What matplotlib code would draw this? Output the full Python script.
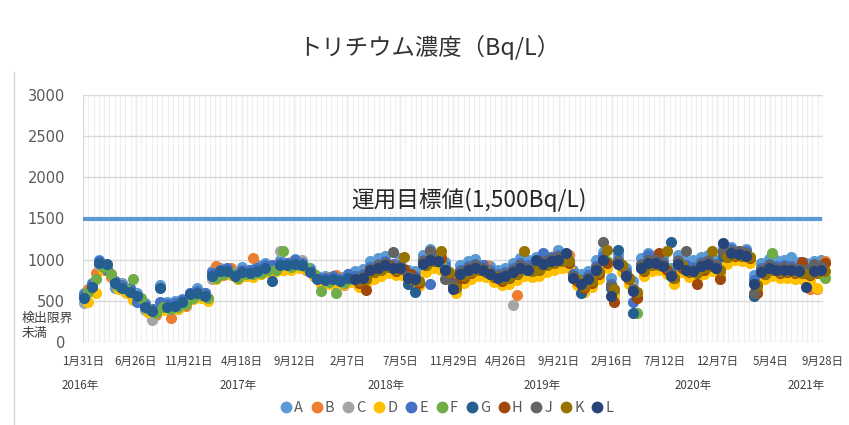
import matplotlib
matplotlib.use('Agg')
import matplotlib.pyplot as plt
import numpy as np
import pandas as pd
from matplotlib.lines import Line2D

plt.rcParams['font.family'] = ['Noto Sans CJK JP', 'DejaVu Sans']

# ---------------- data ----------------
title = 'トリチウム濃度（Bq/L）'
target_label = '運用目標値(1,500Bq/L)'
target_value = 1500
target_dates = ['2016-01-31', '2021-09-25']
lod_lines = ['検出限界', '未満']

tick_dates = ['2016-01-31', '2016-06-26', '2016-11-21', '2017-04-18', '2017-09-12',
              '2018-02-07', '2018-07-05', '2018-11-29', '2019-04-26', '2019-09-21',
              '2020-02-16', '2020-07-12', '2020-12-07', '2021-05-04', '2021-09-28']
tick_labels = ['1月31日', '6月26日', '11月21日', '4月18日', '9月12日', '2月7日', '7月5日',
               '11月29日', '4月26日', '9月21日', '2月16日', '7月12日', '12月7日', '5月4日', '9月28日']
year_labels = ['2016年', '2017年', '2018年', '2019年', '2020年', '2021年']
y_ticks = [0, 500, 1000, 1500, 2000, 2500, 3000]

series_names = ['A', 'B', 'C', 'D', 'E', 'F', 'G', 'H', 'J', 'K', 'L']
colors = ['#5B9BD5', '#ED7D31', '#A5A5A5', '#FFC000', '#4472C4', '#70AD47',
          '#255E91', '#9E480E', '#636363', '#997300', '#264478']

# sampling dates (group 1)
dates = ['2016-02-04', '2016-02-25', '2016-03-17', '2016-04-07', '2016-04-28', '2016-05-19',
         '2016-06-09', '2016-06-30', '2016-07-21', '2016-08-11', '2016-09-01', '2016-09-22',
         '2016-10-13', '2016-11-03', '2016-11-24', '2016-12-15', '2017-01-05', '2017-01-26',
         '2017-02-16', '2017-03-09', '2017-03-30', '2017-04-20', '2017-05-11', '2017-06-01',
         '2017-06-22', '2017-07-13', '2017-08-03', '2017-08-24', '2017-09-14', '2017-10-05',
         '2017-10-26', '2017-11-16', '2017-12-07', '2017-12-28', '2018-01-18', '2018-02-08',
         '2018-03-01', '2018-03-22', '2018-04-12', '2018-05-03', '2018-05-24', '2018-06-14',
         '2018-07-05', '2018-07-26', '2018-08-16', '2018-09-06', '2018-09-27', '2018-10-18',
         '2018-11-08', '2018-11-29', '2018-12-20', '2019-01-10', '2019-01-31', '2019-02-21',
         '2019-03-14', '2019-04-04', '2019-04-25', '2019-05-16', '2019-06-06', '2019-06-27',
         '2019-07-18', '2019-08-08', '2019-08-29', '2019-09-19', '2019-10-10', '2019-10-31',
         '2019-11-21', '2019-12-12', '2020-01-02', '2020-01-23', '2020-02-13', '2020-03-05',
         '2020-03-26', '2020-04-16', '2020-05-07', '2020-05-28', '2020-06-18', '2020-07-09',
         '2020-07-30', '2020-08-20', '2020-09-10', '2020-10-01', '2020-10-22', '2020-11-12',
         '2020-12-03', '2020-12-24', '2021-01-14', '2021-02-04', '2021-02-25', '2021-03-18',
         '2021-04-08', '2021-04-29', '2021-05-20', '2021-06-10', '2021-07-01', '2021-07-22',
         '2021-08-12', '2021-09-02', '2021-09-23']
# sampling dates (group 2)
dates_alt = ['2016-02-14', '2016-03-06', '2016-03-27', '2016-04-17', '2016-05-08', '2016-05-29',
             '2016-06-19', '2016-07-10', '2016-07-31', '2016-08-21', '2016-09-11', '2016-10-02',
             '2016-10-23', '2016-11-13', '2016-12-04', '2016-12-25', '2017-01-15', '2017-02-05',
             '2017-02-26', '2017-03-19', '2017-04-09', '2017-04-30', '2017-05-21', '2017-06-11',
             '2017-07-02', '2017-07-23', '2017-08-13', '2017-09-03', '2017-09-24', '2017-10-15',
             '2017-11-05', '2017-11-26', '2017-12-17', '2018-01-07', '2018-01-28', '2018-02-18',
             '2018-03-11', '2018-04-01', '2018-04-22', '2018-05-13', '2018-06-03', '2018-06-24',
             '2018-07-15', '2018-08-05', '2018-08-26', '2018-09-16', '2018-10-07', '2018-10-28',
             '2018-11-18', '2018-12-09', '2018-12-30', '2019-01-20', '2019-02-10', '2019-03-03',
             '2019-03-24', '2019-04-14', '2019-05-05', '2019-05-26', '2019-06-16', '2019-07-07',
             '2019-07-28', '2019-08-18', '2019-09-08', '2019-09-29', '2019-10-20', '2019-11-10',
             '2019-12-01', '2019-12-22', '2020-01-12', '2020-02-02', '2020-02-23', '2020-03-15',
             '2020-04-05', '2020-04-26', '2020-05-17', '2020-06-07', '2020-06-28', '2020-07-19',
             '2020-08-09', '2020-08-30', '2020-09-20', '2020-10-11', '2020-11-01', '2020-11-22',
             '2020-12-13', '2021-01-03', '2021-01-24', '2021-02-14', '2021-03-07', '2021-03-28',
             '2021-04-18', '2021-05-09', '2021-05-30', '2021-06-20', '2021-07-11', '2021-08-01',
             '2021-08-22', '2021-09-12', '2021-10-03']

A = [590, 720, 990, 900, 650, 720, 580, 600, 470, 400, 690, 480, 500, 520, 600, 650, 590, 860, 900, 820,
     850, 910, 880, 930, 960, 870, 990, 900, 1010, 980, 900, 800, 800, 720, 790, 830,
     860, 890, 980, 1020, 1050, 900, 1020, 880, 860, 1060, 1130, 990, 970, 800, 930, 980, 1010, 890, 920, 880,
     900, 960, 1020, 990, 1030, 1060, 990, 1120, 1010, 880, 820, 860, 990, 1090, 780, 1060, 900, 740, 1020, 1080,
     1060, 1030, 900, 1060, 980, 990, 1030, 1060, 1000, 1140, 1150, 1080, 1130, 810, 960, 1010, 990, 1000, 1030,
     970, 960, 980, 990]
B = [640, 840, 880, 790, 690, 610, 570, 520, 370, 330, 410, 290, 400, 440, 520, 560, 520, 920, 810, 900,
     760, 800, 1020, 830, 850, 940, 880, 970, 920, 880, 800, 700, 790, 810, 690, 730, 700, 850, 820, 850,
     880, 950, 850, 720, 700, 900, 950, 1040, 810, 660, 770, 820, 850, 930, 770, 730, 750, 570, 850, 820,
     850, 900, 1040, 950, 1060, 720, 610, 700, 820, 950, 580, 900, 740, 580, 850, 910, 1010, 870, 740, 900,
     830, 800, 870, 900, 850, 1000, 1030, 1110, 1000, 650, 800, 850, 820, 830, 820, 810, 640, 640, 980]
C = [470, 640, 940, 870, 700, 700, 600, 520, 390, 270, 430, 400, 470, 460, 580, 620, 600, 760, 870, 890,
     840, 880, 830, 880, 940, 920, 1100, 960, 920, 990, 880, 790, 720, 790, 770, 760, 790, 810, 900, 950,
     900, 940, 950, 820, 800, 990, 1040, 1010, 900, 720, 860, 910, 930, 920, 860, 820, 840, 450, 940, 920,
     940, 990, 1020, 1040, 970, 820, 740, 800, 910, 1040, 690, 990, 840, 660, 940, 1000, 1000, 960, 840, 990,
     920, 900, 960, 990, 940, 1090, 1120, 1110, 1090, 740, 890, 940, 910, 920, 910, 900, 880, 900, 920]
D = [490, 600, 870, 820, 640, 600, 510, 490, 370, 350, 390, 410, 400, 460, 520, 540, 500, 760, 820, 810,
     770, 800, 790, 820, 850, 860, 880, 880, 900, 890, 810, 710, 700, 720, 700, 730,
     670, 700, 770, 800, 840, 810, 800, 700, 680, 850, 900, 880, 780, 600, 720, 770, 800, 790, 730, 690,
     700, 750, 800, 790, 800, 850, 880, 900, 900, 690, 610, 670, 770, 900, 560, 850, 700, 530, 800, 860,
     870, 820, 710, 850, 790, 760, 820, 860, 800, 950, 990, 980, 960, 610, 760, 800, 780, 780, 770, 760,
     740, 650, 780]
E = [570, 710, 980, 880, 740, 690, 650, 480, 450, 400, 480, 460, 470, 510, 590, 620, 590, 840, 880, 900,
     820, 880, 870, 900, 940, 930, 960, 960, 990, 960, 880, 790, 780, 800, 770, 820, 800, 820, 910, 950,
     980, 950, 940, 830, 800, 1000, 700, 1030, 920, 720, 870, 920, 950, 930, 870, 830, 850, 900, 960, 930,
     950, 1080, 1030, 1060, 1050, 830, 750, 810, 920, 1050, 700, 1000, 850, 490, 950, 1060, 1010, 970, 850, 1000,
     930, 910, 970, 1000, 950, 1100, 1130, 1110, 1100, 750, 900, 950, 920, 930, 920, 910, 890, 910, 930]
F = [610, 770, 910, 830, 680, 640, 770, 530, 400, 350, 420, 400, 420, 460, 540, 570, 540, 780, 830, 840,
     780, 830, 820, 840, 880, 880, 1100, 910, 930, 910, 830, 620, 730, 600, 720, 760, 740, 760, 850, 880,
     910, 880, 880, 760, 740, 930, 980, 960, 850, 660, 800, 850, 880, 860, 800, 760, 780, 830, 880, 860,
     880, 930, 960, 980, 980, 760, 680, 740, 850, 980, 630, 930, 780, 350, 880, 940, 940, 900, 780, 930,
     860, 840, 900, 930, 880, 1030, 1060, 1050, 1030, 680, 830, 1080, 850, 860, 850, 840, 820, 840, 780]
G = [540, 670, 960, 950, 720, 660, 610, 560, 420, 380, 650, 430, 440, 480, 580, 600, 560, 800, 860, 860,
     800, 850, 840, 860, 900, 740, 930, 930, 950, 930, 850, 760, 750, 760, 740, 780, 760, 780, 870, 900,
     930, 900, 900, 700, 610, 950, 1000, 980, 870, 680, 820, 870, 900, 880, 820, 780, 800, 850, 900, 880,
     900, 950, 980, 1000, 1000, 780, 600, 760, 870, 1000, 650, 1120, 800, 350, 900, 960, 960, 920, 1220, 950,
     880, 860, 920, 950, 900, 1050, 1080, 1070, 1050, 560, 850, 900, 870, 880, 870, 860, 840, 860, 880]
H = [720, 630, 850, 900, 930, 860, 890, 820, 720, 940, 980, 1020, 820, 720, 780, 840, 890, 850, 790, 740,
     780, 820, 900, 870, 880, 950, 960, 990, 960, 740, 660, 720, 830, 960, 490, 920, 760, 540, 860, 930,
     1080, 880, 780, 900, 850, 700, 880, 920, 760, 1030, 1050, 1040, 1020, 600, 820, 870, 840, 850, 840, 970,
     810, 850, 960]
J = [760, 800, 890, 930, 960, 1090, 920, 800, 780, 980, 1100, 1000, 760, 700, 850, 900, 930, 900, 840, 800,
     820, 870, 930, 900, 920, 980, 1010, 1030, 1020, 800, 720, 780, 900, 1220, 680, 980, 830, 640, 930, 990,
     990, 950, 830, 980, 1100, 880, 950, 980, 930, 1080, 1100, 1100, 1080, 600, 880, 930, 900, 910, 900, 890,
     870, 950, 910]
K = [740, 760, 850, 880, 910, 880, 1030, 760, 740, 930, 980, 1100, 850, 660, 800, 850, 880, 860, 800, 760,
     780, 830, 1100, 860, 880, 930, 960, 980, 980, 760, 680, 740, 850, 1120, 640, 930, 780, 610, 880, 940,
     940, 1100, 780, 930, 860, 840, 900, 1100, 880, 1030, 1060, 1050, 1030, 690, 830, 880, 850, 860, 850, 840,
     820, 840, 860]
L = [760, 780, 870, 900, 930, 900, 900, 780, 760, 950, 1000, 980, 870, 640, 820, 870, 900, 880, 820, 780,
     800, 850, 900, 880, 1000, 950, 980, 1000, 1080, 780, 700, 760, 870, 1000, 560, 950, 800, 620, 900, 960,
     960, 920, 800, 950, 880, 860, 920, 950, 900, 1200, 1080, 1070, 1050, 700, 850, 900, 870, 880, 870, 860,
     670, 860, 880]

series_values = [A, B, C, D, E, F, G, H, J, K, L]
series_dates = [dates, dates_alt, dates, dates_alt, dates, dates_alt, dates,
                dates_alt[36:], dates[36:], dates_alt[36:], dates[36:]]

# ---------------- figure ----------------
W, H_PX = 849, 425
fig = plt.figure(figsize=(W / 100, H_PX / 100), dpi=100)
left, right, bottom, top = 83, 823, 342, 95
ax = fig.add_axes([left / W, 1 - bottom / H_PX, (right - left) / W, (bottom - top) / H_PX])

x0 = pd.Timestamp(tick_dates[0])
x1 = pd.Timestamp(tick_dates[-1])
ax.set_xlim(x0, x1)
ax.set_ylim(0, 3000)

ax.set_yticks(y_ticks)
ax.set_yticklabels([str(v) for v in y_ticks], family='DejaVu Sans')
ax.set_xticks(pd.to_datetime(tick_dates))
ax.set_xticklabels(tick_labels)
minor = pd.to_datetime(np.linspace(x0.value, x1.value, 141))
ax.set_xticks(minor, minor=True)
ax.grid(True, which='major', color='#D9D9D9', lw=1.0, zorder=0)
ax.grid(True, which='minor', axis='x', color='#EFEFEF', lw=0.8, zorder=0)
ax.set_axisbelow(True)
for s in ax.spines.values():
    s.set_visible(False)
ax.tick_params(axis='both', which='both', length=0)
ax.tick_params(axis='y', pad=13, labelsize=10.5, labelcolor='#595959')
ax.tick_params(axis='x', pad=9, labelsize=8.3, labelcolor='#404040')

# target line
ax.plot(pd.to_datetime(target_dates), [target_value] * 2, color='#5B9BD5', lw=3, zorder=2,
        solid_capstyle='butt')
ax.text((469 - left) / (right - left), (bottom - 200) / (bottom - top), target_label,
        transform=ax.transAxes, ha='center', va='center', fontsize=16.3, color='#262626')

# scatter series
for i, (name, vals, d, c) in enumerate(zip(series_names, series_values, series_dates, colors)):
    ax.scatter(pd.to_datetime(d), vals, s=64, color=c, linewidths=0, zorder=3 + i,
               clip_on=False, label=name)

# texts
fig.text(429 / W, 1 - 48 / H_PX, title, ha='center', va='center', fontsize=16.8, color='#333333')
for txt, py in zip(lod_lines, [318, 334]):
    fig.text(22 / W, 1 - py / H_PX, txt, ha='left', va='center', fontsize=9.3, color='#404040')
year_px = [80, 238, 386, 542, 693, 806]
for yl, px in zip(year_labels, year_px):
    fig.text(px / W, 1 - 385 / H_PX, yl, ha='center', va='center', fontsize=8.3,
             color='#404040')

# legend
handles = [Line2D([], [], marker='o', ls='none', color=c, markersize=7.5) for c in colors]
fig.legend(handles, series_names, loc='center', bbox_to_anchor=(446 / W, 1 - 408 / H_PX),
           ncol=11, frameon=False, handletextpad=0.05, columnspacing=0.45, handlelength=1.0,
           fontsize=10.5, labelcolor='#595959', borderpad=0.2)

# chart-area border (left side visible)
fig.add_artist(Line2D([14 / W, 14 / W], [0, 1 - 72 / H_PX], color='#D9D9D9', lw=1,
                      transform=fig.transFigure))

fig.savefig('out.png', dpi=100)
